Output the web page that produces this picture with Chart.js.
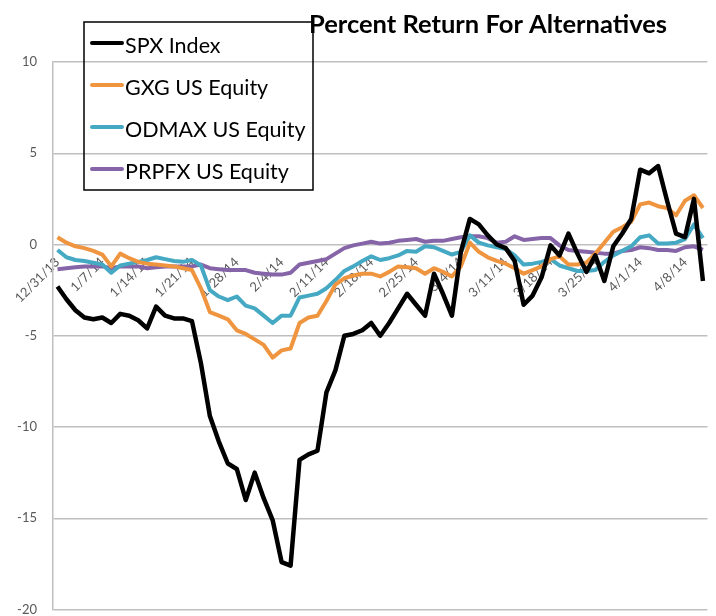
<!DOCTYPE html>
<html>
<head>
<meta charset="utf-8">
<script src="https://cdn.jsdelivr.net/npm/chart.js@4"></script>
<style>
  html, body { margin: 0; padding: 0; background: #fff; }
  #wrap { width: 716px; height: 616px; }
</style>
</head>
<body>
<div id="wrap"><canvas id="chart" width="716" height="616"></canvas></div>
<script>
// --- datos (días hábiles 12/31/13 - 4/10/14) ---
const dates = [
  '12/31/13', '1/1/14', '1/2/14', '1/3/14', '1/6/14',
  '1/7/14', '1/8/14', '1/9/14', '1/10/14', '1/13/14',
  '1/14/14', '1/15/14', '1/16/14', '1/17/14', '1/20/14',
  '1/21/14', '1/22/14', '1/23/14', '1/24/14', '1/27/14',
  '1/28/14', '1/29/14', '1/30/14', '1/31/14', '2/3/14',
  '2/4/14', '2/5/14', '2/6/14', '2/7/14', '2/10/14',
  '2/11/14', '2/12/14', '2/13/14', '2/14/14', '2/17/14',
  '2/18/14', '2/19/14', '2/20/14', '2/21/14', '2/24/14',
  '2/25/14', '2/26/14', '2/27/14', '2/28/14', '3/3/14',
  '3/4/14', '3/5/14', '3/6/14', '3/7/14', '3/10/14',
  '3/11/14', '3/12/14', '3/13/14', '3/14/14', '3/17/14',
  '3/18/14', '3/19/14', '3/20/14', '3/21/14', '3/24/14',
  '3/25/14', '3/26/14', '3/27/14', '3/28/14', '3/31/14',
  '4/1/14', '4/2/14', '4/3/14', '4/4/14', '4/7/14',
  '4/8/14', '4/9/14', '4/10/14'
];

const spx = [
  -2.3, -3.0, -3.6, -4.0, -4.1,
  -4.0, -4.3, -3.8, -3.9, -4.15,
  -4.6, -3.4, -3.9, -4.05, -4.05,
  -4.2, -6.5, -9.4, -10.8, -12.0,
  -12.3, -14.0, -12.5, -13.9, -15.1,
  -17.4, -17.6, -11.8, -11.5, -11.3,
  -8.1, -6.9, -5.0, -4.9, -4.7,
  -4.3, -5.0, -4.3, -3.5, -2.7,
  -3.3, -3.9, -1.6, -2.7, -3.9,
  -0.4, 1.4, 1.1, 0.5, 0.0,
  -0.2, -0.9, -3.3, -2.8, -1.8,
  -0.05, -0.6, 0.6, -0.5, -1.5,
  -0.6, -2.0, -0.1, 0.6, 1.4,
  4.1, 3.9, 4.3, 2.4, 0.6,
  0.4, 2.5, -2.0
];

const gxg = [
  0.4, 0.1, -0.1, -0.2, -0.35,
  -0.55, -1.2, -0.5, -0.75, -0.95,
  -1.05, -1.1, -1.15, -1.2, -1.3,
  -1.4, -2.4, -3.7, -3.9, -4.1,
  -4.7, -4.9, -5.2, -5.5, -6.2,
  -5.8, -5.7, -4.3, -4.0, -3.9,
  -3.1, -2.2, -1.85, -1.7, -1.6,
  -1.6, -1.75, -1.5, -1.2, -1.25,
  -1.3, -1.6, -1.3, -1.5, -1.75,
  -1.2, 0.1, -0.4, -0.7, -0.9,
  -1.05, -1.3, -1.6, -1.4, -1.2,
  -0.8, -0.65, -1.1, -1.1, -1.0,
  -0.5, 0.1, 0.7, 0.95, 1.25,
  2.2, 2.3, 2.1, 2.0, 1.6,
  2.4, 2.7, 2.0
];

const odmax = [
  -0.3, -0.7, -0.85, -0.9, -1.0,
  -1.1, -1.55, -1.15, -1.05, -0.95,
  -0.85, -0.7, -0.8, -0.9, -0.95,
  -0.85, -1.15, -2.5, -2.85, -3.05,
  -2.85, -3.35, -3.5, -3.9, -4.3,
  -3.9, -3.9, -2.9, -2.8, -2.7,
  -2.4, -1.95, -1.45, -1.2, -0.9,
  -0.65, -0.85, -0.75, -0.6, -0.35,
  -0.4, -0.1, -0.15, -0.35, -0.55,
  -0.4, 0.5, 0.1, -0.05, -0.15,
  -0.25, -0.6, -1.1, -1.05, -0.95,
  -0.8, -1.15, -1.3, -1.45, -1.45,
  -1.4, -0.95, -0.6, -0.35, -0.1,
  0.4, 0.5, 0.05, 0.05, 0.1,
  0.3, 1.1, 0.35
];

const prpfx = [
  -1.35, -1.3, -1.25, -1.2, -1.2,
  -1.2, -1.3, -1.2, -1.2, -1.2,
  -1.3, -1.25, -1.2, -1.2, -1.2,
  -1.2, -1.1, -1.3, -1.35, -1.4,
  -1.4, -1.4, -1.55, -1.6, -1.65,
  -1.65, -1.55, -1.1, -1.0, -0.9,
  -0.8, -0.5, -0.2, -0.05, 0.05,
  0.15, 0.05, 0.1, 0.2, 0.25,
  0.3, 0.15, 0.2, 0.2, 0.3,
  0.4, 0.45, 0.45, 0.35, 0.1,
  0.15, 0.45, 0.25, 0.3, 0.35,
  0.35, -0.05, -0.3, -0.35, -0.4,
  -0.45, -0.5, -0.5, -0.35, -0.3,
  -0.15, -0.2, -0.3, -0.3, -0.35,
  -0.15, -0.1, -0.3
];

const seriesNames = ['SPX Index', 'GXG US Equity', 'ODMAX US Equity', 'PRPFX US Equity'];
const seriesColors = ['#000000', '#F0953F', '#45A9C3', '#8565A8'];
const chartTitle = 'Percent Return For Alternatives';

// --- plugins: título y leyenda dentro del área ---
const titlePlugin = {
  id: 'titlePlugin',
  afterDraw(chart) {
    const ctx = chart.ctx;
    ctx.save();
    ctx.fillStyle = '#000';
    ctx.font = 'bold 25.5px Lato';
    ctx.textAlign = 'center';
    ctx.textBaseline = 'middle';
    ctx.fillText(chartTitle, 488, 25);
    ctx.restore();
  }
};

const legendBox = {
  id: 'legendBox',
  afterDraw(chart) {
    const ctx = chart.ctx;
    ctx.save();
    ctx.strokeStyle = '#000';
    ctx.lineWidth = 1.5;
    ctx.strokeRect(84, 22, 229, 168);
    chart.data.datasets.forEach((ds, i) => {
      const y = 43 + i * 42;
      ctx.strokeStyle = ds.borderColor;
      ctx.lineWidth = 4;
      ctx.lineCap = 'round';
      ctx.beginPath();
      ctx.moveTo(92, y);
      ctx.lineTo(122, y);
      ctx.stroke();
      ctx.fillStyle = '#000';
      ctx.font = '21.5px Lato';
      ctx.textBaseline = 'middle';
      ctx.fillText(ds.label, 125, y + 3);
    });
    ctx.restore();
  }
};

const allSeries = [spx, gxg, odmax, prpfx];

new Chart(document.getElementById('chart'), {
  type: 'line',
  data: {
    labels: dates,
    datasets: allSeries.map((vals, i) => ({
      label: seriesNames[i],
      data: vals,
      borderColor: seriesColors[i],
      backgroundColor: seriesColors[i],
      borderWidth: i === 0 ? 4.5 : 4,
      pointRadius: 0,
      tension: 0,
      borderJoinStyle: 'round'
    }))
  },
  options: {
    responsive: false,
    animation: false,
    layout: { padding: { top: 62, right: 4, bottom: 6, left: 0 } },
    plugins: {
      legend: { display: false },
      title: { display: false },
      tooltip: { enabled: false }
    },
    scales: {
      x: {
        type: 'category',
        position: { y: 0 },
        offset: true,
        afterFit: s => { s.height = 0; },
        grid: { display: false },
        border: { display: false },
        ticks: {
          autoSkip: false,
          minRotation: 45,
          maxRotation: 45,
          padding: 2,
          color: '#595959',
          font: { family: 'Lato', size: 13 },
          callback: (val, i) => (i % 5 === 0 ? dates[i] : '')
        }
      },
      y: {
        min: -20,
        max: 10,
        afterFit: s => { s.width = 53; },
        grid: {
          color: '#BFBFBF',
          lineWidth: 1.5,
          drawTicks: true,
          tickLength: 16,
          tickColor: 'rgba(0,0,0,0)'
        },
        border: { color: '#BFBFBF', width: 1.5 },
        ticks: {
          stepSize: 5,
          padding: 0,
          color: '#595959',
          font: { family: 'Lato', size: 13, lineHeight: 1 }
        }
      }
    }
  },
  plugins: [titlePlugin, legendBox]
});
</script>
</body>
</html>
